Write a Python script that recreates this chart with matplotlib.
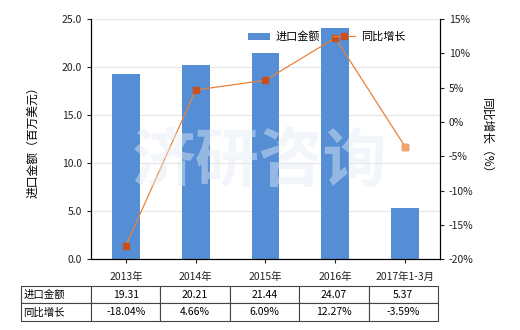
import matplotlib
matplotlib.use('Agg')
import matplotlib.pyplot as plt
import numpy as np

plt.rcParams['font.family'] = ['Noto Sans CJK SC', 'DejaVu Sans']

# data
categories = ['2013年', '2014年', '2015年', '2016年', '2017年1-3月']
import_value = [19.31, 20.21, 21.44, 24.07, 5.37]       # 百万美元
yoy_growth = [-18.04, 4.66, 6.09, 12.27, -3.59]          # %
value_labels = ['19.31', '20.21', '21.44', '24.07', '5.37']
growth_labels = ['-18.04%', '4.66%', '6.09%', '12.27%', '-3.59%']

fig = plt.figure(figsize=(5.2, 3.3), dpi=100)
ax = fig.add_axes([0.175, 0.215, 0.671, 0.727])
ax2 = ax.twinx()

x = np.arange(len(categories))
bars = ax.bar(x, import_value, 0.4, color='#558ED5', label='进口金额', zorder=2)

ax.set_xlim(-0.5, len(categories) - 0.5)
ax.set_ylim(0, 25)
ax.set_yticks(np.arange(0, 25.1, 5))
ax.set_yticklabels(['%.1f' % v for v in np.arange(0, 25.1, 5)])
ax.yaxis.grid(True, color='#E6E6E6', linewidth=0.8, zorder=0)
ax.set_axisbelow(True)
ax.set_xticks(x)
ax.set_xticklabels(categories)
ax.tick_params(axis='both', labelsize=7.5, length=3, colors='#222222')
ax.tick_params(axis='x', pad=6)
ax.set_ylabel('进口金额（百万美元）', fontsize=8.5, labelpad=16)

for sp in ['top']:
    ax.spines[sp].set_visible(False)
    ax2.spines[sp].set_visible(False)

# growth line
line, = ax2.plot(x, yoy_growth, color='#E8823A', linewidth=0.9, marker='s',
                 markersize=5, markerfacecolor='#C9501C', markeredgecolor='#C9501C',
                 label='同比增长', zorder=3)
# last point lighter (partial period)
ax2.plot(x[-1], yoy_growth[-1], marker='s', markersize=5, color='#F0A46A', zorder=4)
ax2.set_ylim(-20, 15)
ax2.set_yticks(np.arange(-20, 15.1, 5))
ax2.set_yticklabels(['%d%%' % v for v in np.arange(-20, 15.1, 5)])
ax2.tick_params(axis='y', labelsize=7.5, length=3, colors='#222222')
ax2.set_ylabel('同比增长（%）', fontsize=8.5, rotation=-90, labelpad=14)

# watermark
fig.text(0.5, 0.51, '济研咨询', fontsize=46, color='#E4ECF4', alpha=0.45,
         ha='center', va='center', fontweight='bold', zorder=10)

ax2.legend([bars, line], ['进口金额', '同比增长'], loc='upper right',
           bbox_to_anchor=(0.93, 0.99), ncol=2, frameon=False, fontsize=8,
           handlelength=2.0, columnspacing=1.2, handletextpad=0.5)

# data table below the plot
cell_text = [value_labels, growth_labels]
row_names = ['进口金额', '同比增长']
tab = ax.table(cellText=[[row_names[i]] + cell_text[i] for i in range(2)],
               cellLoc='center',
               colWidths=[70.0 / 417] + [69.4 / 417] * 5,
               bbox=[-0.2006, -0.258, 1.195, 0.146])
tab.auto_set_font_size(False)
tab.set_fontsize(7.5)
for (r, c), cell in tab.get_celld().items():
    cell.set_edgecolor('#444444')
    cell.set_linewidth(0.8)
    if c == 0:
        cell.set_text_props(ha='left')
        cell._loc = 'left'
        cell.PAD = 0.03

fig.savefig('out.png', dpi=100)
